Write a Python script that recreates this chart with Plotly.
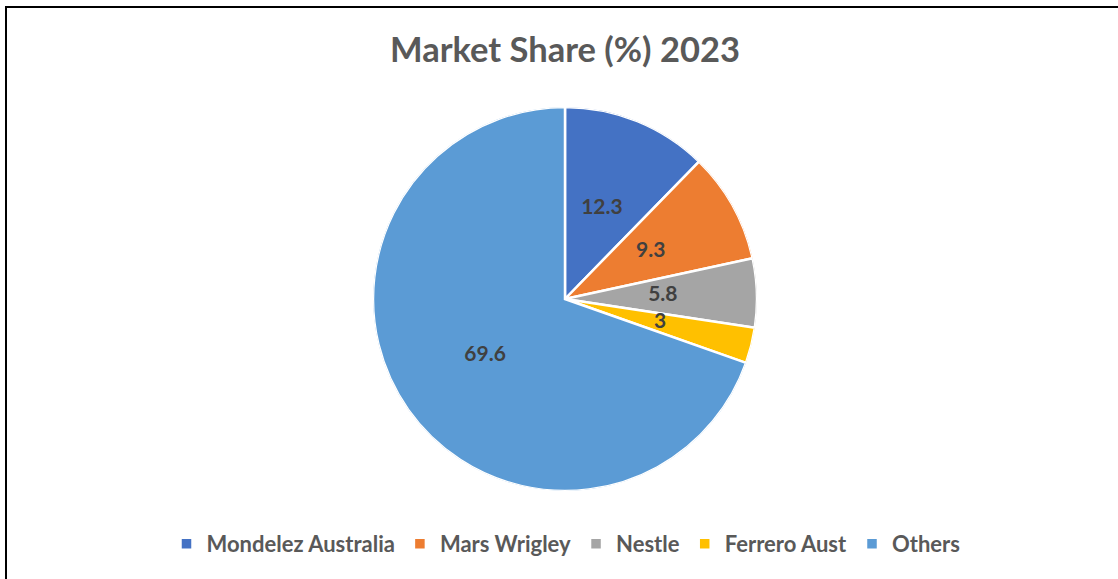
import plotly.graph_objects as go

companies = ["Mondelez Australia", "Mars Wrigley", "Nestle", "Ferrero Aust", "Others"]
shares = [12.3, 9.3, 5.8, 3, 69.6]
colors = ["#4472C4", "#ED7D31", "#A5A5A5", "#FFC000", "#5B9BD5"]

W, H = 1118, 579
cx, cy, r = 565, 299, 192

total = sum(shares)
starts = [sum(shares[:i]) for i in range(len(shares))]
mid_deg = [(s + v / 2) / total * 360 for s, v in zip(starts, shares)]
width_deg = [v / total * 360 for v in shares]

fig = go.Figure()
for name, v, th, wd, c in zip(companies, shares, mid_deg, width_deg, colors):
    fig.add_trace(go.Barpolar(
        r=[1], theta=[th], width=[wd], name=name,
        marker=dict(color=c, line=dict(color="white", width=2.5)),
        hovertext=[f"{name}: {v}"], hoverinfo="text",
    ))

fig.add_trace(go.Scatterpolar(
    r=[0.51] * len(shares), theta=mid_deg, mode="text",
    text=[str(v) for v in shares],
    textfont=dict(family="Lato", size=21, color="#404040", weight="bold"),
    showlegend=False, hoverinfo="skip",
))

fig.update_layout(
    width=W, height=H,
    margin=dict(l=0, r=0, t=0, b=0),
    paper_bgcolor="white",
    font=dict(family="Lato"),
    polar=dict(
        domain=dict(x=[(cx - r) / W, (cx + r) / W], y=[1 - (cy + r) / H, 1 - (cy - r) / H]),
        bgcolor="rgba(0,0,0,0)",
        radialaxis=dict(range=[0, 1], visible=False, showgrid=False),
        angularaxis=dict(visible=False, showgrid=False, rotation=90, direction="clockwise"),
        bargap=0,
    ),
    title=dict(text="<b>Market Share (%) 2023</b>", x=cx / W, xanchor="center",
               y=1 - 50 / H, yanchor="middle",
               font=dict(family="Lato", size=34.5, color="#595959")),
    legend=dict(orientation="h", x=566 / W, xanchor="center", y=1 - 544 / H, yanchor="middle",
                font=dict(family="Lato", size=22, color="#595959", weight="bold"),
                itemwidth=30, traceorder="normal"),
    shapes=[dict(type="rect", xref="paper", yref="paper", x0=6 / W, x1=1.05,
                 y0=-0.05, y1=1 - 7 / H, line=dict(color="black", width=2))],
)

fig.write_html("out.html", config={"displayModeBar": False},
               post_script="document.body.style.margin='0';")
